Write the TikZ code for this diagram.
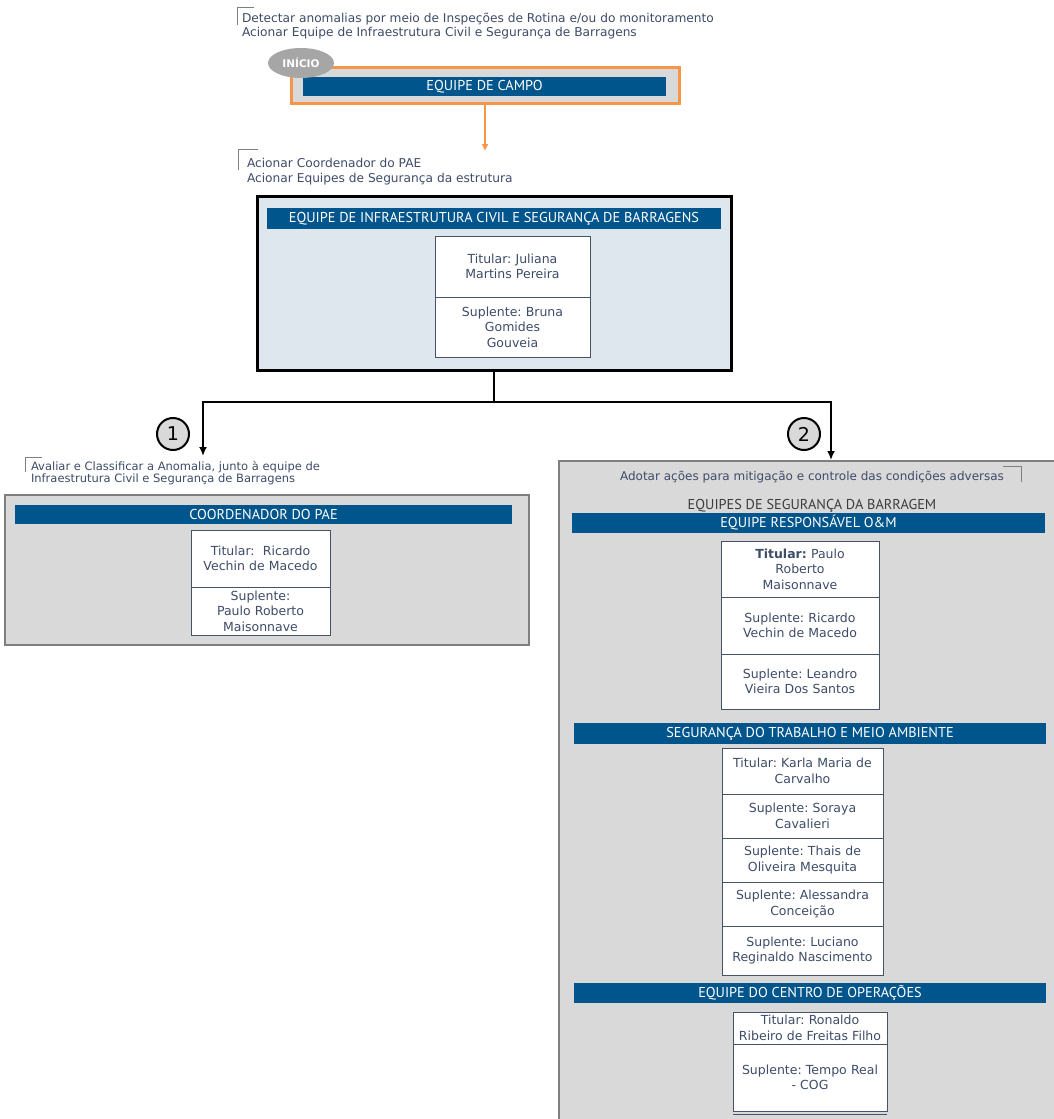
\documentclass[tikz,border=0pt]{standalone}
\usepackage{fontspec}
\setmainfont{DejaVu Sans}
\newfontfamily\capsfont{PT Sans}
\usetikzlibrary{positioning,shapes.geometric,arrows.meta}
\frenchspacing

\definecolor{barblue}{RGB}{0,85,140}
\definecolor{inktxt}{RGB}{62,76,104}
\definecolor{panelgray}{RGB}{217,217,217}
\definecolor{panelblue}{RGB}{222,230,238}
\definecolor{campoorange}{RGB}{247,150,70}
\definecolor{rimgray}{RGB}{127,127,127}
\definecolor{cellrim}{RGB}{70,82,104}
\definecolor{ovalgray}{RGB}{166,166,166}

\begin{document}
\begin{tikzpicture}[
    x=1pt, y=-1pt,
    every node/.style={font=\fontsize{12.5}{15.5}\selectfont, text=inktxt,
      inner sep=0pt, outer sep=0pt},
    note/.style={align=left, anchor=north west,
      font=\fontsize{12.2}{14}\selectfont},
    bracket/.style={draw=rimgray, line width=0.8pt},
    hdr/.style={fill=barblue, text=white,
      font=\capsfont\fontsize{14.3}{15}\selectfont},
    panel/.style={draw=rimgray, line width=2pt, fill=panelgray},
    cell/.style={draw=cellrim, line width=1pt, fill=white, align=center},
    badge/.style={circle, draw=black, line width=2pt, fill=panelgray,
      minimum size=32pt, text=black, font=\fontsize{19}{19}\selectfont},
    link/.style={draw=black, line width=2.5pt},
  ]
  \fill[white] (0,0) rectangle (1054,1119);
  \useasboundingbox (0,0) rectangle (1054,1119);

  % equipe de campo
  \draw[bracket] (237,25) |- (254,7);
  \node[note] (campotxt) at (242,13)
    {Detectar anomalias por meio de Inspeções de Rotina e/ou do monitoramento\\
     Acionar Equipe de Infraestrutura Civil e Segurança de Barragens};
  \node[draw=campoorange, line width=3pt, fill=panelgray,
    minimum width=388pt, minimum height=36pt] (campobox) at (485,85) {};
  \node[hdr, minimum width=363pt, minimum height=19pt] (campohdr)
    at (484.5,86.5) {EQUIPE DE CAMPO};
  \node[ellipse, fill=ovalgray, minimum width=66pt, minimum height=30pt,
    text=white, font=\bfseries\fontsize{10.5}{12}\selectfont] (inicio)
    at (301,63) {INÍCIO};
  \coordinate (campoend) at (485,151);
  \draw[draw=campoorange, line width=2pt,
    -{Latex[length=7pt,width=7pt]}] (campobox.south) -- (campoend);

  % infraestrutura civil
  \draw[bracket] (238,170) |- (258,149);
  \node[note, font=\fontsize{12.2}{15}\selectfont] (infratxt) at (247,158)
    {Acionar Coordenador do PAE\\
     Acionar Equipes de Segurança da estrutura};
  \node[draw=black, line width=3pt, fill=panelblue,
    minimum width=474pt, minimum height=174pt] (infrabox) at (494,283) {};
  \node[hdr, minimum width=454pt, minimum height=21pt] (infrahdr)
    at (494,218.5) {EQUIPE DE INFRAESTRUTURA CIVIL E SEGURANÇA DE BARRAGENS};
  \node[cell, text width=155pt, minimum height=61pt, anchor=north] (infT)
    at (512.5,236) {Titular: Juliana\\Martins Pereira};
  \node[cell, text width=155pt, minimum height=60pt, below=0pt of infT]
    (infS) {Suplente: Bruna\\Gomides\\Gouveia};

  % ramificacao
  \coordinate (split) at (494,402);
  \coordinate (endA) at (203,456);
  \coordinate (endB) at (831,460);
  \draw[link] (infrabox.south) -- (split);
  \draw[link, -{Latex[length=9pt,width=8pt]}] (split) -| (endA);
  \draw[link, -{Latex[length=9pt,width=8pt]}] (split) -| (endB);
  \node[badge] (one) at (173,434) {1};
  \node[badge] (two) at (804,434) {2};

  % coordenador do PAE
  \draw[bracket] (25,472) |- (42,457);
  \node[note, font=\fontsize{11.5}{12.5}\selectfont] (paetxt) at (31,461)
    {Avaliar e Classificar a Anomalia, junto à equipe de\\
     Infraestrutura Civil e Segurança de Barragens};
  \node[panel, minimum width=524pt, minimum height=150pt] (paebox)
    at (267,570) {};
  \node[hdr, minimum width=497pt, minimum height=19pt] (paehdr)
    at (263.5,514.5) {COORDENADOR DO PAE};
  \node[cell, text width=139pt, minimum height=57pt, anchor=north] (paeT)
    at (260.5,530) {Titular:~ Ricardo\\Vechin de Macedo};
  \node[cell, text width=139pt, minimum height=48pt, below=0pt of paeT]
    (paeS) {Suplente:\\Paulo Roberto\\Maisonnave};

  % equipes de seguranca da barragem
  \node[panel, minimum width=503pt, minimum height=669pt] (segbox)
    at (810.5,795.5) {};
  \node[font=\fontsize{12}{14}\selectfont] (segtxt) at (812,477)
    {Adotar ações para mitigação e controle das condições adversas};
  \draw[bracket] (1003,466) -| (1021,482);
  \node[text={rgb,255:red,60;green,60;blue,60},
    font=\capsfont\fontsize{14.3}{15}\selectfont] (segttl) at (812,506)
    {EQUIPES DE SEGURANÇA DA BARRAGEM};

  \node[hdr, minimum width=473pt, minimum height=20pt] (omhdr)
    at (808.5,523) {EQUIPE RESPONSÁVEL O\&M};
  \node[cell, text width=158pt, minimum height=56pt, anchor=north] (omT)
    at (800,541) {\textbf{Titular:} Paulo\\Roberto\\Maisonnave};
  \node[cell, text width=158pt, minimum height=57pt, below=0pt of omT]
    (omS1) {Suplente: Ricardo\\Vechin de Macedo};
  \node[cell, text width=158pt, minimum height=55pt, below=0pt of omS1]
    (omS2) {Suplente: Leandro\\Vieira Dos Santos};

  \node[hdr, minimum width=472pt, minimum height=21pt] (ssthdr)
    at (810,733.5) {SEGURANÇA DO TRABALHO E MEIO AMBIENTE};
  \node[cell, text width=161pt, minimum height=46pt, anchor=north] (sstT)
    at (802.5,748) {Titular: Karla Maria de\\Carvalho};
  \node[cell, text width=161pt, minimum height=44pt, below=0pt of sstT]
    (sstS1) {Suplente: Soraya\\Cavalieri};
  \node[cell, text width=161pt, minimum height=44pt, below=0pt of sstS1]
    (sstS2) {Suplente: Thais de\\Oliveira Mesquita};
  \node[cell, text width=161pt, minimum height=44pt, below=0pt of sstS2]
    (sstS3) {Suplente: Alessandra\\Conceição};
  \node[cell, text width=161pt, minimum height=49pt, below=0pt of sstS3]
    (sstS4) {Suplente: Luciano\\Reginaldo Nascimento};

  \node[hdr, minimum width=472pt, minimum height=20pt] (coghdr)
    at (810,993) {EQUIPE DO CENTRO DE OPERAÇÕES};
  \node[cell, text width=154pt, minimum height=32pt, anchor=north] (cogT)
    at (810,1012) {Titular: Ronaldo\\Ribeiro de Freitas Filho};
  \node[cell, text width=154pt, minimum height=67pt, below=0pt of cogT]
    (cogS) {Suplente: Tempo Real\\- COG};
  \draw[cellrim, line width=1pt] ([yshift=-3pt]cogS.south west)
    -- ([yshift=-3pt]cogS.south east);
\end{tikzpicture}
\end{document}
